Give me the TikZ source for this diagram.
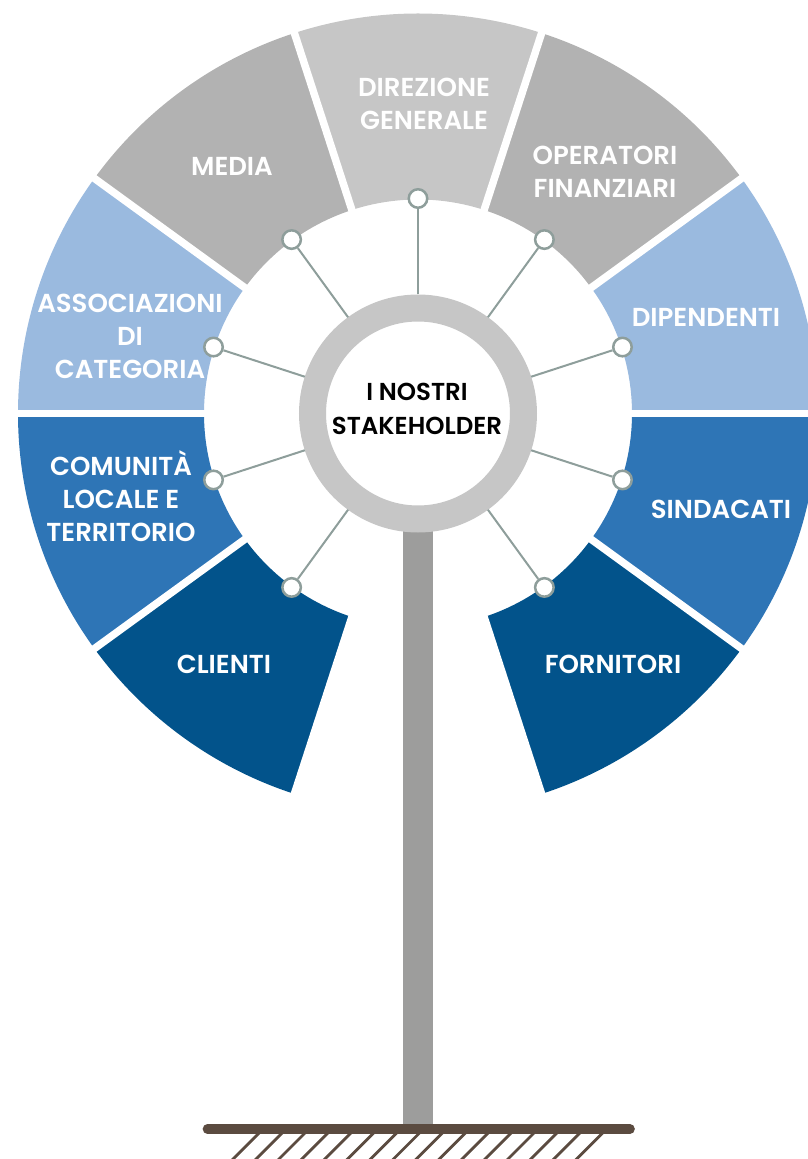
\documentclass[tikz,border=0pt]{standalone}
\usepackage{fontspec}
\setmainfont{Poppins}
\newfontfamily\lblfont{Poppins SemiBold}
\definecolor{segGrayLight}{HTML}{C6C6C6}
\definecolor{segGray}{HTML}{B2B2B2}
\definecolor{segLightBlue}{HTML}{9ABADF}
\definecolor{segMidBlue}{HTML}{2E75B6}
\definecolor{segDarkBlue}{HTML}{02538B}
\definecolor{ringGray}{HTML}{C6C6C6}
\definecolor{poleGray}{HTML}{9D9D9C}
\definecolor{connGray}{HTML}{8E9E9B}
\definecolor{groundBrown}{HTML}{5B4B40}
\begin{document}
\begin{tikzpicture}[x=1pt,y=1pt,
  lbl/.style={text=white, font=\lblfont\fontsize{26}{33}\selectfont, align=center, inner sep=0pt},
  hubtext/.style={text=black, font=\lblfont\fontsize{24.5}{34}\selectfont, align=center, inner sep=0pt},
  hubring/.style={circle, minimum size=211pt, line width=27pt, draw=ringGray, fill=white, inner sep=0pt},
  dot/.style={circle, minimum size=18.5pt, line width=2.5pt, draw=connGray, fill=white, inner sep=0pt},
  conn/.style={draw=connGray, line width=2pt},
  gapline/.style={white, line width=7.5pt},
  hatchline/.style={groundBrown, line width=2.8pt},
  groundline/.style={groundBrown, line width=9.7pt, line cap=round}
]
\useasboundingbox (-418,-745.5) rectangle (390,413.5);
% segments
\foreach \a/\c in {72/segGrayLight,108/segGray,144/segLightBlue,180/segMidBlue,216/segDarkBlue,288/segDarkBlue,324/segMidBlue,0/segLightBlue,36/segGray}{
  \fill[\c] (\a:214pt) arc[start angle=\a, end angle=\a+36, radius=214pt]
     -- ({\a+36}:400pt) arc[start angle=\a+36, end angle=\a, radius=400pt] -- cycle;
}
% white gaps
\foreach \a in {0,36,72,108,144,180,216,252,288,324}{
  \draw[gapline] (\a:205pt) -- (\a:410pt);
}
% pole
\fill[poleGray] (-15,-100) rectangle (15,-715.5);
% hub
\node[hubring] (hub) at (0,0) {};
\node[hubtext] (hubLabel) at (-1,4.8) {I NOSTRI\\STAKEHOLDER};
% dots
\node[dot] (dDir) at (90:215pt) {};
\node[dot] (dOper) at (54:215pt) {};
\node[dot] (dDip) at (18:215pt) {};
\node[dot] (dSind) at (-18:215pt) {};
\node[dot] (dForn) at (-54:215pt) {};
\node[dot] (dCli) at (234:215pt) {};
\node[dot] (dCom) at (198:215pt) {};
\node[dot] (dAss) at (162:215pt) {};
\node[dot] (dMedia) at (126:215pt) {};
\foreach \n in {dDir,dOper,dDip,dSind,dForn,dCli,dCom,dAss,dMedia}{
  \draw[conn] (hub) -- (\n);
}
% labels
\node[lbl] (lDir) at (6,309.5) {DIREZIONE\\GENERALE};
\node[lbl] (lMedia) at (-186,247) {MEDIA};
\node[lbl] (lOper) at (187,241.5) {OPERATORI\\FINANZIARI};
\node[lbl] (lAss) at (-288,77.5) {ASSOCIAZIONI\\DI\\CATEGORIA};
\node[lbl] (lDip) at (288,96) {DIPENDENTI};
\node[lbl] (lCom) at (-297,-85.8) {COMUNIT\smash{À}\\LOCALE E\\TERRITORIO};
\node[lbl] (lSind) at (303,-95.5) {SINDACATI};
\node[lbl] (lCli) at (-194,-250.8) {CLIENTI};
\node[lbl] (lForn) at (195,-250.8) {FORNITORI};
% ground
\foreach \i in {0,...,15}{
  \draw[hatchline] ({-186.3+22.9*\i},-747) -- ({-155.3+22.9*\i},-716);
}
\coordinate (gL) at (-210.5,-715.5);
\coordinate (gR) at (212,-715.5);
\draw[groundline] (gL) -- (gR);
\end{tikzpicture}
\end{document}
